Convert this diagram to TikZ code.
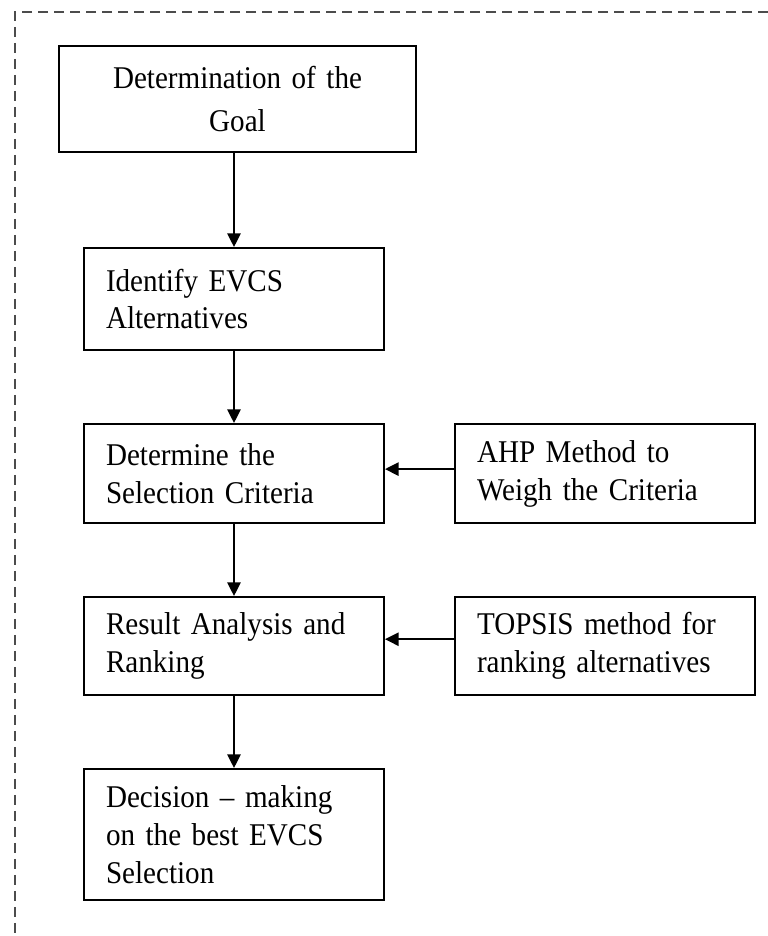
\documentclass[tikz,border=0pt]{standalone}
\usepackage{fontspec}
\setmainfont{Liberation Serif}[FakeStretch=0.92, WordSpace=0.75]
\usetikzlibrary{arrows.meta}

\tikzset{
    stagebox/.style={draw, line width=1.4pt, inner xsep=0.55cm, inner ysep=0pt,
        text width=6.4cm, align=left, font=\fontsize{22.5}{27}\selectfont},
    flowarrow/.style={line width=1.4pt, -{Triangle[width=0.33cm, length=0.34cm]}}
}

\begin{document}
\begin{tikzpicture}

            \useasboundingbox (0,0) rectangle (19.2,-23.4);

            %----- DASHED FRAME (TOP AND LEFT) -----
            \draw[line width=1.3pt, black!70, dash pattern=on 0.25cm off 0.15cm]
                (19.2,-0.3) -- (0.375,-0.3) -- (0.375,-23.4);

            %----- MAIN COLUMN -----
            \node[stagebox, text width=7.825cm, align=center, minimum height=2.65cm,
                font=\fontsize{22.5}{30.6}\selectfont]
                (goal) at (5.9375,-2.475) {Determination of the\\Goal};
            \node[stagebox, minimum height=2.55cm]
                (ident) at (5.85,-7.475) {Identify EVCS\\Alternatives};
            \node[stagebox, minimum height=2.475cm]
                (crit) at (5.85,-11.8375) {Determine the\\Selection Criteria};
            \node[stagebox, minimum height=2.45cm]
                (result) at (5.85,-16.15) {Result Analysis and\\Ranking};
            \node[stagebox, minimum height=3.275cm]
                (decision) at (5.85,-20.8625) {Decision -- making\\on the best EVCS\\Selection};

            %----- METHOD BOXES -----
            \node[stagebox, minimum height=2.475cm]
                (ahp) at (15.125,-11.8375) {AHP Method to\\Weigh the Criteria};
            \node[stagebox, minimum height=2.45cm]
                (topsis) at (15.125,-16.15) {TOPSIS method for\\ranking alternatives};

            %----- ARROWS -----
            \draw[flowarrow] (goal.south -| ident.north) -- (ident.north);
            \draw[flowarrow] (ident) -- (crit);
            \draw[flowarrow] (crit) -- (result);
            \draw[flowarrow] (result) -- (decision);
            \draw[flowarrow] ([yshift=0.11cm]ahp.west) -- ([yshift=0.11cm]crit.east);
            \draw[flowarrow] ([yshift=0.17cm]topsis.west) -- ([yshift=0.17cm]result.east);

        \end{tikzpicture}
\end{document}
